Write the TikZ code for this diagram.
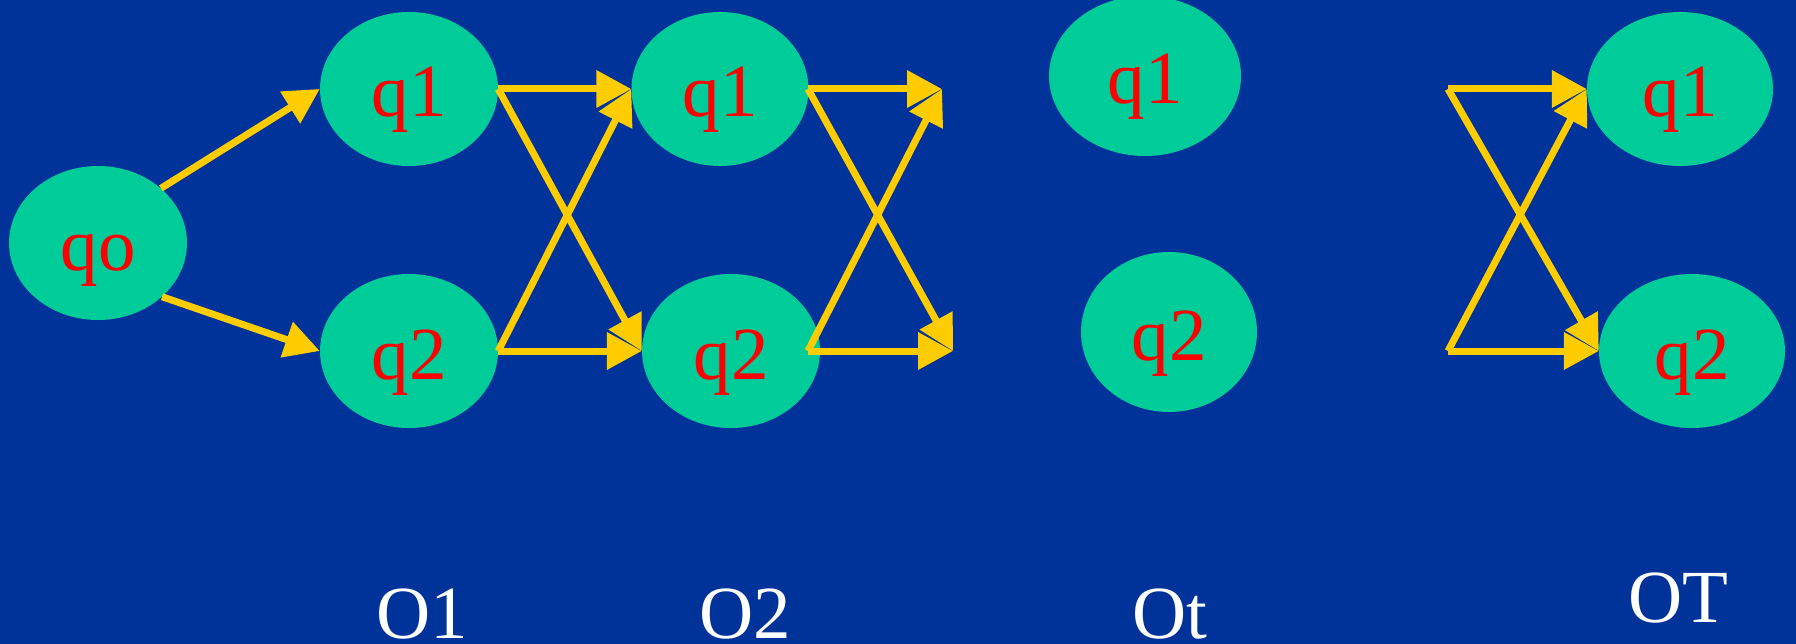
\documentclass[tikz,border=0pt]{standalone}
\usepackage{fontspec}
\setmainfont{Liberation Serif}
\usetikzlibrary{shapes.geometric,arrows.meta}

\definecolor{bgblue}{RGB}{0,51,153}
\definecolor{statefill}{RGB}{0,204,153}
\definecolor{arrowyellow}{RGB}{255,204,0}

\tikzset{
  state/.style={ellipse, fill=statefill, draw=none, inner sep=0pt,
    text=red, font=\fontsize{75}{90}\selectfont,
    text height=56pt, text depth=0pt,
    minimum width=178pt, minimum height=154pt},
  trans/.style={draw=arrowyellow, line width=7pt,
    -{Triangle[length=35pt,width=36pt]}, fill=none},
  steplabel/.style={anchor=base, text=white, inner sep=0pt,
    font=\fontsize{75}{90}\selectfont}
}

\begin{document}
\begin{tikzpicture}[x=1pt,y=-1pt]
  % canvas
  \fill[bgblue] (0,0) rectangle (1796,644);
  \useasboundingbox (0,0) rectangle (1796,644);

  % states
  \node[state] (q0) at (98,243) {qo};
  \node[state] (a1) at (409,89) {q1};
  \node[state] (a2) at (409,351) {q2};
  \node[state, minimum width=177pt] (b1) at (720,89) {q1};
  \node[state] (b2) at (731,351) {q2};
  \node[state, minimum width=192pt, minimum height=160pt] (c1) at (1145,76) {q1};
  \node[state, minimum width=176pt, minimum height=160pt] (c2) at (1169,332) {q2};
  \node[state, minimum width=186pt] (d1) at (1680,89) {q1};
  \node[state, minimum width=186pt] (d2) at (1692,351) {q2};

  % loose ends of the transitions
  \coordinate (s2top) at (808,89);
  \coordinate (s2bot) at (808,351);
  \coordinate (e2top) at (942,89);
  \coordinate (e2bot) at (953,351);
  \coordinate (s4top) at (1448,89);
  \coordinate (s4bot) at (1448,351);

  % step 1
  \draw[trans] (q0.41) -- (a1.west);
  \draw[trans] (q0.-40) -- (a2.west);

  % step 2
  \draw[trans] (a1.east) -- (b1.west);
  \draw[trans] (a1.east) -- (b2.west);
  \draw[trans] (a2.east) -- (b1.west);
  \draw[trans] (a2.east) -- (b2.west);

  % step 3
  \draw[trans] (s2top) -- (e2top);
  \draw[trans] (s2top) -- (e2bot);
  \draw[trans] (s2bot) -- (e2top);
  \draw[trans] (s2bot) -- (e2bot);

  % final step
  \draw[trans] (s4top) -- (d1.west);
  \draw[trans] (s4top) -- (d2.west);
  \draw[trans] (s4bot) -- (d1.west);
  \draw[trans] (s4bot) -- (d2.west);

  % observation labels
  \node[steplabel] (o1) at (422,638) {O1};
  \node[steplabel] (o2) at (745,638) {O2};
  \node[steplabel] (ot) at (1170,638) {Ot};
  \node[steplabel] (oT) at (1678,622) {OT};
\end{tikzpicture}
\end{document}
